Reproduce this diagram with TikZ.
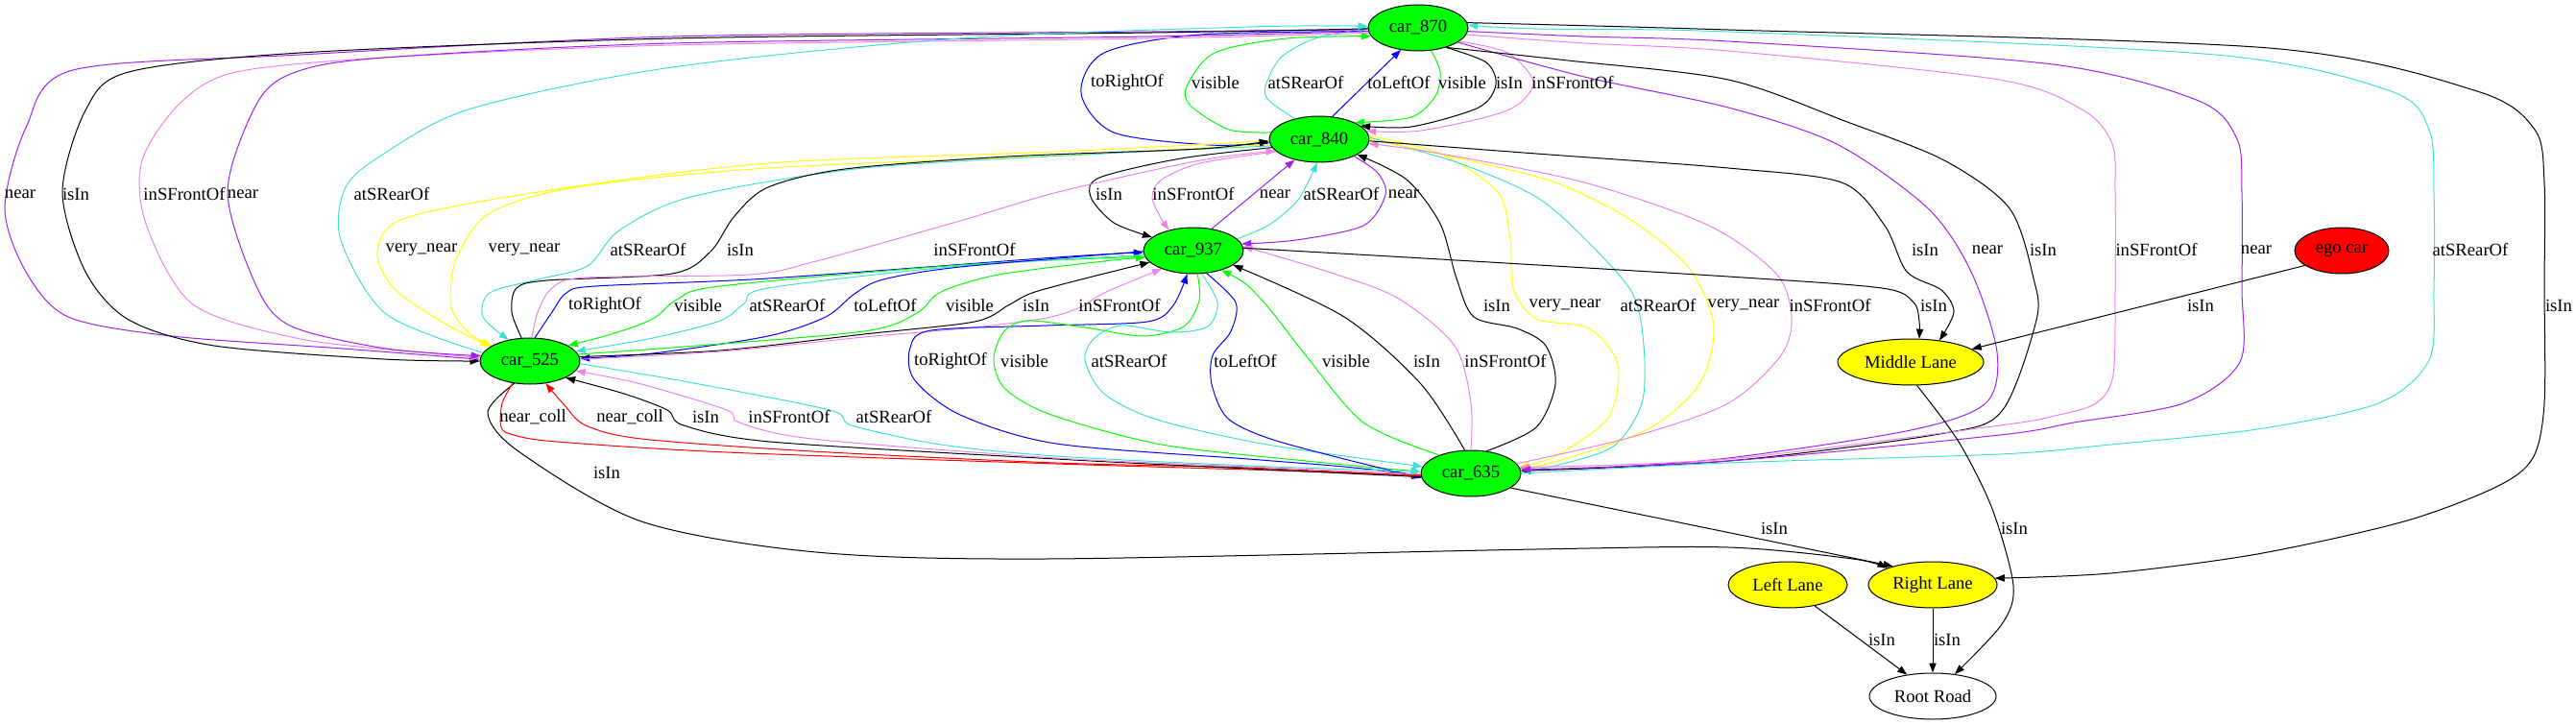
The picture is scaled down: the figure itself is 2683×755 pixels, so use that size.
\documentclass[tikz,border=0pt]{standalone}
\usepackage{fontspec}
\setmainfont{Liberation Serif}
\usetikzlibrary{shapes.geometric,arrows.meta}
\definecolor{cgreen}{HTML}{00FF00}
\definecolor{cblue}{HTML}{0000FF}
\definecolor{ccyan}{HTML}{40E0D0}
\definecolor{cpink}{HTML}{EE82EE}
\definecolor{cpurple}{HTML}{A020F0}
\definecolor{cyellow}{HTML}{FFFF00}
\definecolor{cred}{HTML}{FF0000}
\begin{document}
\begin{tikzpicture}[x=0.75pt,y=-0.75pt,font=\fontsize{14pt}{16pt}\selectfont,
  car/.style={ellipse,draw,line width=0.75pt,fill=cgreen,minimum width=78pt,minimum height=36pt,inner sep=0pt},
  lane/.style={ellipse,draw,line width=0.75pt,fill=cyellow,minimum height=36pt,inner sep=0pt},
  edg/.style={line width=0.75pt,-{Triangle[length=7.5pt,width=5.5pt]}},
  lbl/.style={inner sep=0pt}]
\useasboundingbox (0,0) rectangle (2683,755);
% nodes
\node[car] (c870) at (1477,29) {car\_870};
\node[car] (c840) at (1374,145) {car\_840};
\node[car] (c937) at (1243,261) {car\_937};
\node[car] (c525) at (552,376) {car\_525};
\node[car] (c635) at (1532,493) {car\_635};
\node[lane,minimum width=114pt] (mid) at (1990,377) {Middle Lane};
\node[ellipse,draw,line width=0.75pt,fill=cred,minimum width=73.5pt,minimum height=36pt,inner sep=0pt] (ego) at (2439,261) {ego car};
\node[lane,minimum width=93pt] (left) at (1862,609) {Left Lane};
\node[lane,minimum width=100.5pt] (right) at (2013,609) {Right Lane};
\node[ellipse,draw,line width=0.75pt,minimum width=99pt,minimum height=36pt,inner sep=0pt] (root) at (2013,725) {Root Road};

% ---- 870 <-> 840
\draw[edg,cblue] plot[smooth] coordinates {(c870.184) (1250,36) (1150,55) (1126,97) (1160,138) (1260,151) (c840.184)};
\draw[edg,cgreen] plot[smooth] coordinates {(c840.172) (1280,135) (1240,110) (1236,90) (1265,55) (1340,40) (c870.190)};
\draw[edg,ccyan] plot[smooth] coordinates {(c840.140) (1322,105) (1318,90) (1334,60) (1370,40) (c870.180)};
\draw[edg,cblue] (c840.60) -- (c870.232);
\draw[edg,cgreen] plot[smooth] coordinates {(c870.-60) (1500,75) (1495,100) (1470,122) (c840.25)};
\draw[edg,black] plot[smooth] coordinates {(c870.-35) (1548,65) (1558,88) (1540,112) (1470,132) (c840.18)};
\draw[edg,cpink] plot[smooth] coordinates {(c870.-18) (1570,55) (1597,86) (1570,115) (1480,136) (c840.10)};
% ---- 840 <-> 937
\draw[edg,black] plot[smooth] coordinates {(c840.190) (1230,165) (1145,185) (1136,205) (1160,232) (c937.162)};
\draw[edg,cpink] plot[smooth] coordinates {(c840.196) (1250,170) (1210,187) (1200,205) (1208,225) (c937.140)};
\draw[edg,cpurple] (c937.50) -- (c840.220);
\draw[edg,ccyan] plot[smooth] coordinates {(c937.15) (1322,234) (1352,208) (c840.265)};
\draw[edg,cpurple] plot[smooth] coordinates {(c840.-26) (1435,180) (1443,203) (1420,235) (1350,250) (c937.8)};
% ---- 840 <-> 525
\draw[edg,cyellow] plot[smooth] coordinates {(c840.182) (1100,158) (800,170) (560,200) (420,228) (393,262) (410,300) (460,335) (c525.160)};
\draw[edg,cyellow] plot[smooth] coordinates {(c840.186) (1100,162) (800,175) (600,195) (510,222) (475,270) (470,320) (490,348) (c525.158)};
\draw[edg,ccyan] plot[smooth] coordinates {(c840.188) (1150,160) (900,175) (720,205) (645,240) (612,277) (560,291) (510,305) (503,330) (c525.135)};
\draw[edg,black] plot[smooth] coordinates {(c525.110) (533,325) (538,300) (570,292) (700,285) (740,262) (765,225) (800,195) (880,176) (1050,163) (1250,155) (c840.182)};
\draw[edg,cpink] plot[smooth] coordinates {(c525.85) (560,325) (575,300) (610,289) (780,286) (850,272) (1000,230) (1102,200) (1250,167) (c840.195)};
% ---- 937 <-> 525
\draw[edg,cblue] plot[smooth] coordinates {(c525.78) (575,325) (590,305) (620,298) (800,290) (1100,268) (c937.182)};
\draw[edg,cgreen] plot[smooth] coordinates {(c937.187) (1000,276) (750,298) (705,312) (680,332) (640,347) (c525.22)};
\draw[edg,ccyan] plot[smooth] coordinates {(c937.185) (1000,277) (800,300) (775,316) (750,334) (680,352) (c525.12)};
\draw[edg,cblue] plot[smooth] coordinates {(c937.181) (1000,278) (920,291) (890,306) (860,330) (800,350) (680,368) (c525.3)};
\draw[edg,cgreen] plot[smooth] coordinates {(c525.8) (700,362) (900,345) (955,326) (980,304) (1040,286) (1150,272) (c937.188)};
\draw[edg,black] plot[smooth] coordinates {(c525.5) (750,365) (900,348) (1015,335) (1050,318) (1075,305) (1130,290) (c937.195)};
\draw[edg,cpink] plot[smooth] coordinates {(c525.2) (750,366) (900,351) (1015,341) (1090,331) (1125,320) (1150,305) (c937.210)};
% ---- 937 <-> 635
\draw[edg,cblue] plot[smooth] coordinates {(c635.182) (1400,486) (1300,478) (1100,462) (1000,432) (952,395) (948,362) (970,344) (1090,339) (1195,335) (1222,318) (c937.255)};
\draw[edg,cgreen] plot[smooth] coordinates {(c937.280) (1249,313) (1233,340) (1190,350) (1130,341) (1070,334) (1045,346) (1035,375) (1047,405) (1095,432) (1210,463) (1360,480) (c635.178)};
\draw[edg,ccyan] plot[smooth] coordinates {(c937.290) (1268,315) (1258,340) (1220,346) (1168,339) (1140,352) (1130,375) (1150,410) (1205,437) (1320,463) (c635.172)};
\draw[edg,cblue] plot[smooth] coordinates {(c937.300) (1287,315) (1282,345) (1263,370) (1262,400) (1278,435) (1320,456) (1400,478) (c635.185)};
\draw[edg,cgreen] plot[smooth] coordinates {(c635.150) (1420,440) (1360,370) (1325,325) (1298,296) (c937.-35)};
\draw[edg,black] plot[smooth] coordinates {(c635.105) (1480,400) (1400,330) (c937.-20)};
\draw[edg,cpink] plot[smooth] coordinates {(c635.90) (1532,420) (1515,360) (1455,310) (1380,282) (c937.5)};
% ---- 840 <-> 635
\draw[edg,black] plot[smooth] coordinates {(c635.55) (1600,445) (1620,400) (1610,360) (1580,342) (1535,330) (1517,290) (1500,233) (1465,187) (c840.-22)};
\draw[edg,cyellow] plot[smooth] coordinates {(c840.4) (1500,160) (1560,200) (1573,250) (1576,300) (1600,332) (1655,342) (1685,380) (1675,435) (1620,475) (c635.8)};
\draw[edg,ccyan] plot[smooth] coordinates {(c840.2) (1520,170) (1600,205) (1652,250) (1700,305) (1712,360) (1710,420) (1680,465) (1620,485) (c635.2)};
\draw[edg,cyellow] plot[smooth] coordinates {(c840.0) (1520,165) (1620,190) (1700,230) (1760,280) (1785,340) (1770,400) (1720,445) (1640,475) (c635.4)};
\draw[edg,cpink] plot[smooth] coordinates {(c635.12) (1700,455) (1800,420) (1855,370) (1866,330) (1850,285) (1780,235) (1650,190) (1500,160) (c840.-5)};
% ---- 870 -> 635 (right loops)
\draw[edg,cpurple] plot[smooth] coordinates {(c870.-20) (1650,80) (1800,112) (1913,150) (2008,217) (2053,283) (2080,367) (2068,420) (1990,448) (1800,477) (1650,488) (c635.6)};
\draw[edg,black] plot[smooth] coordinates {(c870.-35) (1633,63) (1800,83) (1924,127) (2025,167) (2093,217) (2118,290) (2121,333) (2085,428) (2020,452) (1800,480) (c635.3)};
\draw[edg,cpink] plot[smooth] coordinates {(c870.-8) (1650,45) (1800,53) (2082,83) (2170,115) (2200,150) (2203,200) (2203,300) (2201,390) (2183,420) (2140,433) (2083,443) (1800,478) (c635.7)};
\draw[edg,cpurple] plot[smooth] coordinates {(c870.-4) (1650,38) (1800,43) (2138,67) (2290,105) (2330,145) (2335,200) (2335,300) (2333,377) (2274,420) (2160,440) (2083,453) (1800,480) (c635.4)};
\draw[edg,ccyan] plot[smooth] coordinates {(c635.0) (1800,482) (2083,473) (2198,463) (2351,447) (2477,420) (2530,375) (2535,300) (2535,200) (2530,135) (2490,95) (2307,57) (1800,33) (1600,30) (c870.3)};
\draw[edg,black] plot[smooth] coordinates {(c870.6) (1800,31) (2363,50) (2580,95) (2640,135) (2650,190) (2650,300) (2650,420) (2638,477) (2600,507) (2504,543) (2351,577) (2198,597) (right.6)};
% ---- Middle Lane
\draw[edg,black] plot[smooth] coordinates {(c840.-2) (1600,160) (1800,175) (1918,190) (1963,235) (1986,283) (2022,302) (2035,325) (mid.37)};
\draw[edg,black] plot[smooth] coordinates {(c937.3) (1500,270) (1800,288) (1960,300) (1993,315) (1999,335) (mid.70)};
\draw[edg,black] (ego.202) -- (mid.12);
\draw[edg,black] plot[smooth] coordinates {(mid.-75) (2040,460) (2075,530) (2097,610) (2085,650) (root.45)};
% ---- lanes to root
\draw[edg,black] (left.-38) -- (root.140);
\draw[edg,black] (right.south) -- (root.north);
% ---- to Right Lane
\draw[edg,black] plot[smooth] coordinates {(c525.235) (508,430) (540,470) (668,543) (850,575) (1089,582) (1600,572) (1800,570) (1930,582) (right.160)};
\draw[edg,black] (c635.-20) -- (right.155);
% ---- 870 -> 525 (left loops)
\draw[edg,cpurple] plot[smooth] coordinates {(c870.182) (1200,33) (700,38) (313,57) (76,73) (27,133) (5,217) (27,283) (71,330) (179,350) (357,363) (c525.178)};
\draw[edg,black] plot[smooth] coordinates {(c870.181) (1200,34) (700,40) (313,55) (134,75) (89,115) (65,200) (89,283) (134,333) (223,360) (400,374) (c525.180)};
\draw[edg,cpink] plot[smooth] coordinates {(c870.186) (1200,40) (700,47) (400,60) (246,75) (188,107) (148,167) (152,233) (201,317) (313,353) (450,368) (c525.176)};
\draw[edg,cpurple] plot[smooth] coordinates {(c870.184) (1200,38) (700,45) (400,60) (308,75) (268,107) (237,200) (268,300) (304,340) (402,363) (c525.174)};
\draw[edg,ccyan] plot[smooth] coordinates {(c525.170) (402,327) (355,250) (360,195) (400,160) (491,113) (700,70) (1000,40) (1300,28) (c870.178)};
% ---- 525 <-> 635
\draw[edg,cred] plot[smooth] coordinates {(c525.232) (523,420) (522,445) (535,453) (580,460) (757,471) (1100,483) (1300,489) (c635.182)};
\draw[edg,cred] plot[smooth] coordinates {(c635.183) (1300,487) (1100,482) (846,470) (668,457) (610,443) (588,422) (c525.-55)};
\draw[edg,black] plot[smooth] coordinates {(c635.184) (1300,488) (1100,478) (802,460) (712,443) (695,427) (650,410) (c525.-25)};
\draw[edg,cpink] plot[smooth] coordinates {(c635.181) (1300,486) (1100,477) (846,457) (770,440) (757,427) (668,400) (c525.-12)};
\draw[edg,ccyan] plot[smooth] coordinates {(c525.-3) (712,397) (864,427) (887,443) (980,463) (1100,475) (1300,485) (c635.178)};

% ---- labels
\node[lbl] (l01) at (1174,86) {toRightOf};
\node[lbl] (l02) at (1266,86) {visible};
\node[lbl] (l03) at (1360,86) {atSRearOf};
\node[lbl] (l04) at (1457,86) {toLeftOf};
\node[lbl] (l05) at (1523,86) {visible};
\node[lbl] (l06) at (1572,86) {isIn};
\node[lbl] (l07) at (1638,86) {inSFrontOf};
\node[lbl] (l08) at (1155,202) {isIn};
\node[lbl] (l09) at (1243,202) {inSFrontOf};
\node[lbl] (l10) at (1328,202) {near};
\node[lbl] (l11) at (1397,202) {atSRearOf};
\node[lbl] (l12) at (1462,202) {near};
\node[lbl] (l13) at (21,202) {near};
\node[lbl] (l14) at (79,202) {isIn};
\node[lbl] (l15) at (192,202) {inSFrontOf};
\node[lbl] (l16) at (253,202) {near};
\node[lbl] (l17) at (408,202) {atSRearOf};
\node[lbl] (l18) at (439,260) {very\_near};
\node[lbl] (l19) at (546,260) {very\_near};
\node[lbl] (l20) at (675,260) {atSRearOf};
\node[lbl] (l21) at (771,260) {isIn};
\node[lbl] (l22) at (1015,260) {inSFrontOf};
\node[lbl] (l23) at (2005,260) {isIn};
\node[lbl] (l24) at (2070,260) {near};
\node[lbl] (l25) at (2128,260) {isIn};
\node[lbl] (l26) at (2246,260) {inSFrontOf};
\node[lbl] (l27) at (2350,260) {near};
\node[lbl] (l28) at (2573,260) {atSRearOf};
\node[lbl] (l29) at (630,318) {toRightOf};
\node[lbl] (l30) at (727,318) {visible};
\node[lbl] (l31) at (820,318) {atSRearOf};
\node[lbl] (l32) at (922,318) {toLeftOf};
\node[lbl] (l33) at (1010,318) {visible};
\node[lbl] (l34) at (1079,318) {isIn};
\node[lbl] (l35) at (1166,318) {inSFrontOf};
\node[lbl] (l36) at (1559,318) {isIn};
\node[lbl] (l37) at (1630,318) {very\_near};
\node[lbl] (l38) at (1727,318) {atSRearOf};
\node[lbl] (l39) at (1816,318) {very\_near};
\node[lbl] (l40) at (1906,318) {inSFrontOf};
\node[lbl] (l41) at (2014,318) {isIn};
\node[lbl] (l42) at (2292,318) {isIn};
\node[lbl] (l43) at (2665,318) {isIn};
\node[lbl] (l44) at (990,376) {toRightOf};
\node[lbl] (l45) at (1067,376) {visible};
\node[lbl] (l46) at (1176,376) {atSRearOf};
\node[lbl] (l47) at (1297,376) {toLeftOf};
\node[lbl] (l48) at (1402,376) {visible};
\node[lbl] (l49) at (1486,376) {isIn};
\node[lbl] (l50) at (1568,376) {inSFrontOf};
\node[lbl] (l51) at (555,434) {near\_coll};
\node[lbl] (l52) at (656,434) {near\_coll};
\node[lbl] (l53) at (735,434) {isIn};
\node[lbl] (l54) at (822,434) {inSFrontOf};
\node[lbl] (l55) at (931,434) {atSRearOf};
\node[lbl] (l56) at (632,492) {isIn};
\node[lbl] (l57) at (1848,550) {isIn};
\node[lbl] (l58) at (2098,550) {isIn};
\node[lbl] (l59) at (1960,666) {isIn};
\node[lbl] (l60) at (2028,666) {isIn};
\end{tikzpicture}
\end{document}
